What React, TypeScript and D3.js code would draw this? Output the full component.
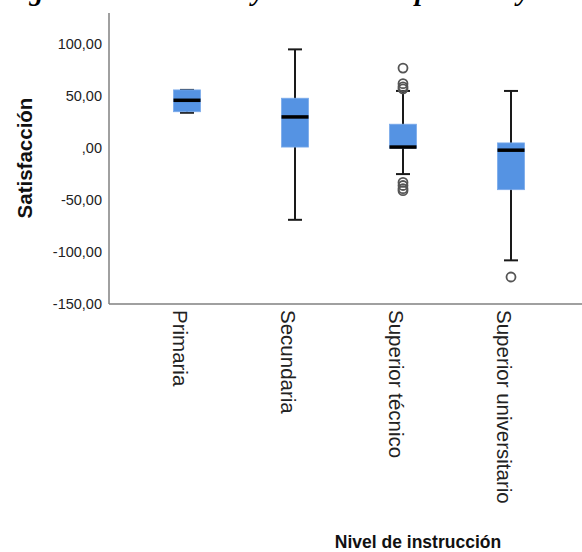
import React, { useEffect, useRef } from 'react';
import * as d3 from 'd3';

const categories = ['Primaria', 'Secundaria', 'Superior técnico', 'Superior universitario'];
const whiskerLow = [34, -69, -25, -108];
const q1Values = [35, 1, 0, -40];
const medianValues = [46, 30, 1, -2];
const q3Values = [56, 48, 23, 5];
const whiskerHigh = [56, 95, 55, 55];
const outlierValues = [[], [], [77, 62, 59, 57, -33, -36, -39, -41], [-124]];
const yTicks = [100, 50, 0, -50, -100, -150];

const caption = 'Figura 5. Resultados y análisis comparativo y estadístico de satisfacción';
const xTitle = 'Nivel de instrucción';
const yTitle = 'Satisfacción';

const fmt = (v: number) => {
  if (v === 0) return ',00';
  const s = Math.abs(v).toFixed(2).replace('.', ',');
  return (v < 0 ? '-' : '') + s;
};

const App: React.FC = () => {
  const svgRef = useRef<SVGSVGElement>(null);
  const width = 582;
  const height = 552;

  useEffect(() => {
    if (!svgRef.current) return;
    const svg = d3.select(svgRef.current);
    svg.selectAll('*').remove();

    const left = 109;
    const bottom = 304;
    const top = 13;

    const y = d3.scaleLinear().domain([-150, 130]).range([bottom, top]);
    const x = d3.scaleBand<string>().domain(categories).range([133, 565]).padding(0);
    const boxW = x.bandwidth() * 0.25;
    const capW = 14;

    // caption, cropped at the top edge so only descenders show
    svg.append('text')
      .attr('x', 3)
      .attr('y', -0.5)
      .attr('font-family', 'Liberation Serif, Times New Roman, serif')
      .attr('font-weight', 'bold')
      .attr('font-style', 'italic')
      .attr('font-size', 28)
      .attr('fill', '#000')
      .text(caption);

    // axes
    const axisY = svg.append('g').attr('transform', `translate(${left},0)`)
      .call(d3.axisLeft(y).tickValues(yTicks).tickSize(0).tickPadding(7).tickFormat(d => fmt(+d)));
    axisY.select('.domain').remove();
    axisY.selectAll('text')
      .attr('font-family', 'Liberation Sans, Arial, sans-serif')
      .attr('font-size', 14.5)
      .attr('fill', '#222');

    svg.append('line')
      .attr('x1', left).attr('x2', left)
      .attr('y1', top).attr('y2', bottom)
      .attr('stroke', '#808080').attr('stroke-width', 1.5);
    svg.append('line')
      .attr('x1', left).attr('x2', width)
      .attr('y1', bottom).attr('y2', bottom)
      .attr('stroke', '#808080').attr('stroke-width', 1.5);

    const g = svg.append('g');
    categories.forEach((c, i) => {
      const cx = (x(c) ?? 0) + x.bandwidth() / 2;
      // whiskers
      g.append('line')
        .attr('x1', cx).attr('x2', cx)
        .attr('y1', y(whiskerHigh[i])).attr('y2', y(whiskerLow[i]))
        .attr('stroke', '#1a1a1a').attr('stroke-width', 2);
      [whiskerHigh[i], whiskerLow[i]].forEach(v => {
        g.append('line')
          .attr('x1', cx - capW / 2).attr('x2', cx + capW / 2)
          .attr('y1', y(v)).attr('y2', y(v))
          .attr('stroke', '#1a1a1a').attr('stroke-width', 2);
      });
      // box
      g.append('rect')
        .attr('x', cx - boxW / 2)
        .attr('y', y(q3Values[i]))
        .attr('width', boxW)
        .attr('height', y(q1Values[i]) - y(q3Values[i]))
        .attr('fill', '#5593e3')
        .attr('stroke', '#7aaaea')
        .attr('stroke-width', 0.8);
      // median
      g.append('line')
        .attr('x1', cx - boxW / 2).attr('x2', cx + boxW / 2)
        .attr('y1', y(medianValues[i])).attr('y2', y(medianValues[i]))
        .attr('stroke', '#000').attr('stroke-width', 3.5);
      // outliers
      outlierValues[i].forEach(v => {
        g.append('circle')
          .attr('cx', cx).attr('cy', y(v)).attr('r', 4.5)
          .attr('fill', 'none')
          .attr('stroke', '#555').attr('stroke-width', 1.8);
      });
      // category label
      svg.append('text')
        .attr('transform', `translate(${cx},310) rotate(90)`)
        .attr('x', 0)
        .attr('y', 14)
        .attr('font-family', 'Liberation Sans, Arial, sans-serif')
        .attr('font-size', 20.5)
        .attr('fill', '#222')
        .text(c);
    });

    svg.append('text')
      .attr('transform', 'translate(32,158) rotate(-90)')
      .attr('text-anchor', 'middle')
      .attr('font-family', 'Liberation Sans, Arial, sans-serif')
      .attr('font-weight', 'bold')
      .attr('font-size', 20.5)
      .attr('fill', '#111')
      .text(yTitle);

    svg.append('text')
      .attr('x', 418)
      .attr('y', 548)
      .attr('text-anchor', 'middle')
      .attr('font-family', 'Liberation Sans, Arial, sans-serif')
      .attr('font-weight', 'bold')
      .attr('font-size', 17.5)
      .attr('fill', '#111')
      .text(xTitle);
  }, []);

  return (
    <svg
      ref={svgRef}
      width={width}
      height={height}
      style={{ position: 'absolute', left: 0, top: 0, background: '#fff' }}
    />
  );
};

export default App;
